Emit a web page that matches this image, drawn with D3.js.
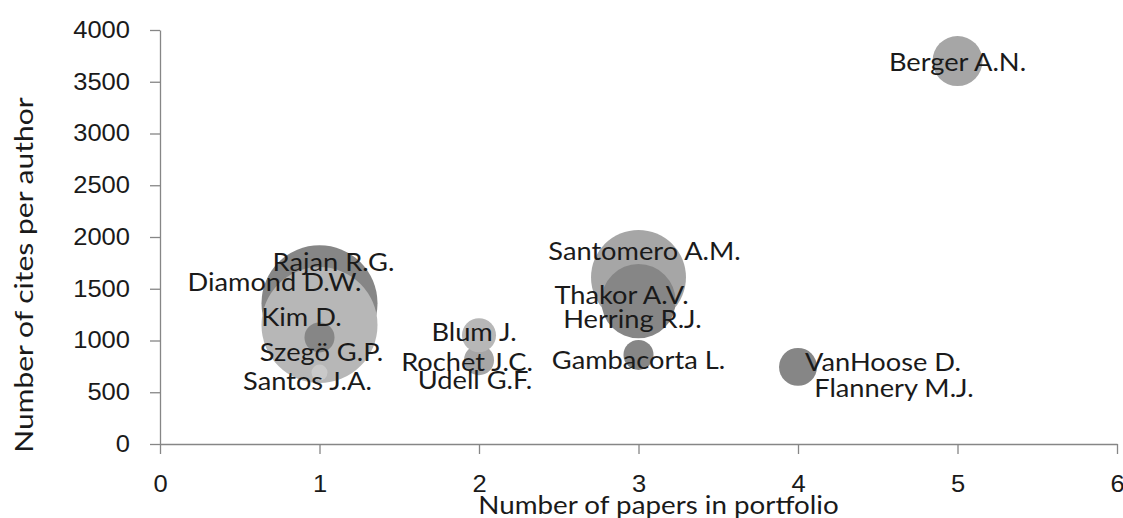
<!DOCTYPE html>
<html>
<head>
<meta charset="utf-8">
<script src="https://cdn.jsdelivr.net/npm/d3@7"></script>
<style>
  body { margin: 0; background: #fff; }
  svg { display: block; font-family: Lato, "Open Sans", sans-serif; }
  .axis path, .axis line { stroke: #868686; stroke-width: 1.3; }
  .axis text { fill: #1a1a1a; font-size: 23px; }
</style>
</head>
<body>
<div id="chart"></div>
<script>
// data
const authors = ["Berger A.N.", "Szegö G.P.", "Rajan R.G.", "Diamond D.W.", "Kim D.", "Santos J.A.",
  "Udell G.F.", "Rochet J.C.", "Blum J.", "Santomero A.M.", "Herring R.J.", "Thakor A.V.",
  "Gambacorta L.", "Flannery M.J.", "VanHoose D."];
const papers = [5, 1, 1, 1, 1, 1, 2, 2, 2, 3, 3, 3, 3, 4, 4];
const cites = [3700, 900, 1360, 1150, 1030, 690, 790, 810, 1050, 1610, 1230, 1380, 860, 730, 745];
const bubbleSize = [18.6, 3, 100, 100, 6.7, 1.9, 4, 6.7, 8.6, 67, 9, 41, 6.7, 4, 10.7];
const xTicks = [0, 1, 2, 3, 4, 5, 6];
const yTicks = [0, 500, 1000, 1500, 2000, 2500, 3000, 3500, 4000];

// styles
const dark = "#868686", mid = "#a6a6a6", light = "#b7b7b7";
const fills = [mid, dark, dark, light, dark, "#c9c9c9", mid, mid, light, mid, dark, dark, dark, dark, dark];
// label offsets from the bubble centre, px
const labelNudge = [[0, 1], [2, 1], [14, -41], [-45, -43], [-18, -20], [-12, 9], [-4, 18], [-12, 2],
  [-5, -3], [6, -26], [-6, 3], [-17, -6], [0, 5], [96, 20], [85, -5]];
// the reference text is a bit wider than Lato, so stretch it sideways
const sxLabel = 1.09, sxTick = 1.11;

////////////////////////////////////////////////////////////////////
const width = 1123, height = 518;
const margin = { top: 30, right: 6, bottom: 74, left: 160 };

const svg = d3.select("#chart").append("svg").attr("width", width).attr("height", height);

const xScale = d3.scaleLinear().domain([0, 6]).range([margin.left, width - margin.right]);
const yScale = d3.scaleLinear().domain([0, 4000]).range([height - margin.bottom, margin.top]);
const rScale = d3.scaleSqrt().domain([0, d3.max(bubbleSize)]).range([0, 58]);

const data = authors.map((name, i) => ({
  name, x: papers[i], y: cites[i], s: bubbleSize[i], fill: fills[i], nudge: labelNudge[i]
}));

// axes
svg.append("g")
  .attr("class", "axis")
  .attr("transform", `translate(0,${yScale(0)})`)
  .call(d3.axisBottom(xScale).tickValues(xTicks).tickFormat(d3.format("d"))
    .tickSize(10).tickSizeOuter(0).tickPadding(22))
  .call(g => g.selectAll("text").attr("dy", "0.71em").attr("transform", `scale(${sxTick},1)`));

svg.append("g")
  .attr("class", "axis")
  .attr("transform", `translate(${xScale(0)},0)`)
  .call(d3.axisLeft(yScale).tickValues(yTicks).tickFormat(d3.format("d"))
    .tickSize(10).tickSizeOuter(0).tickPadding(20))
  .call(g => g.selectAll("text").attr("x", 0).attr("transform", `translate(-30,0) scale(${sxTick},1)`));

// bubbles
svg.append("g")
  .selectAll("circle")
  .data(data)
  .join("circle")
  .attr("cx", d => xScale(d.x))
  .attr("cy", d => yScale(d.y))
  .attr("r", d => rScale(d.s))
  .attr("fill", d => d.fill);

// labels
svg.append("g")
  .selectAll("text")
  .data(data)
  .join("text")
  .attr("transform", d =>
    `translate(${xScale(d.x) + d.nudge[0]},${yScale(d.y) + d.nudge[1]}) scale(${sxLabel},1)`)
  .attr("dy", "0.35em")
  .attr("text-anchor", "middle")
  .style("font-size", "25px")
  .style("fill", "#1a1a1a")
  .text(d => d.name);

// axis titles
svg.append("text")
  .attr("transform", `translate(${(xScale(0) + xScale(6)) / 2 + 20},505) scale(1.11,1)`)
  .attr("dy", "0.35em")
  .attr("text-anchor", "middle")
  .style("font-size", "25px")
  .style("fill", "#1a1a1a")
  .text("Number of papers in portfolio");

svg.append("text")
  .attr("transform", `translate(24,275) rotate(-90) scale(1.2,1)`)
  .attr("dy", "0.35em")
  .attr("text-anchor", "middle")
  .style("font-size", "25px")
  .style("fill", "#1a1a1a")
  .text("Number of cites per author");
</script>
</body>
</html>
